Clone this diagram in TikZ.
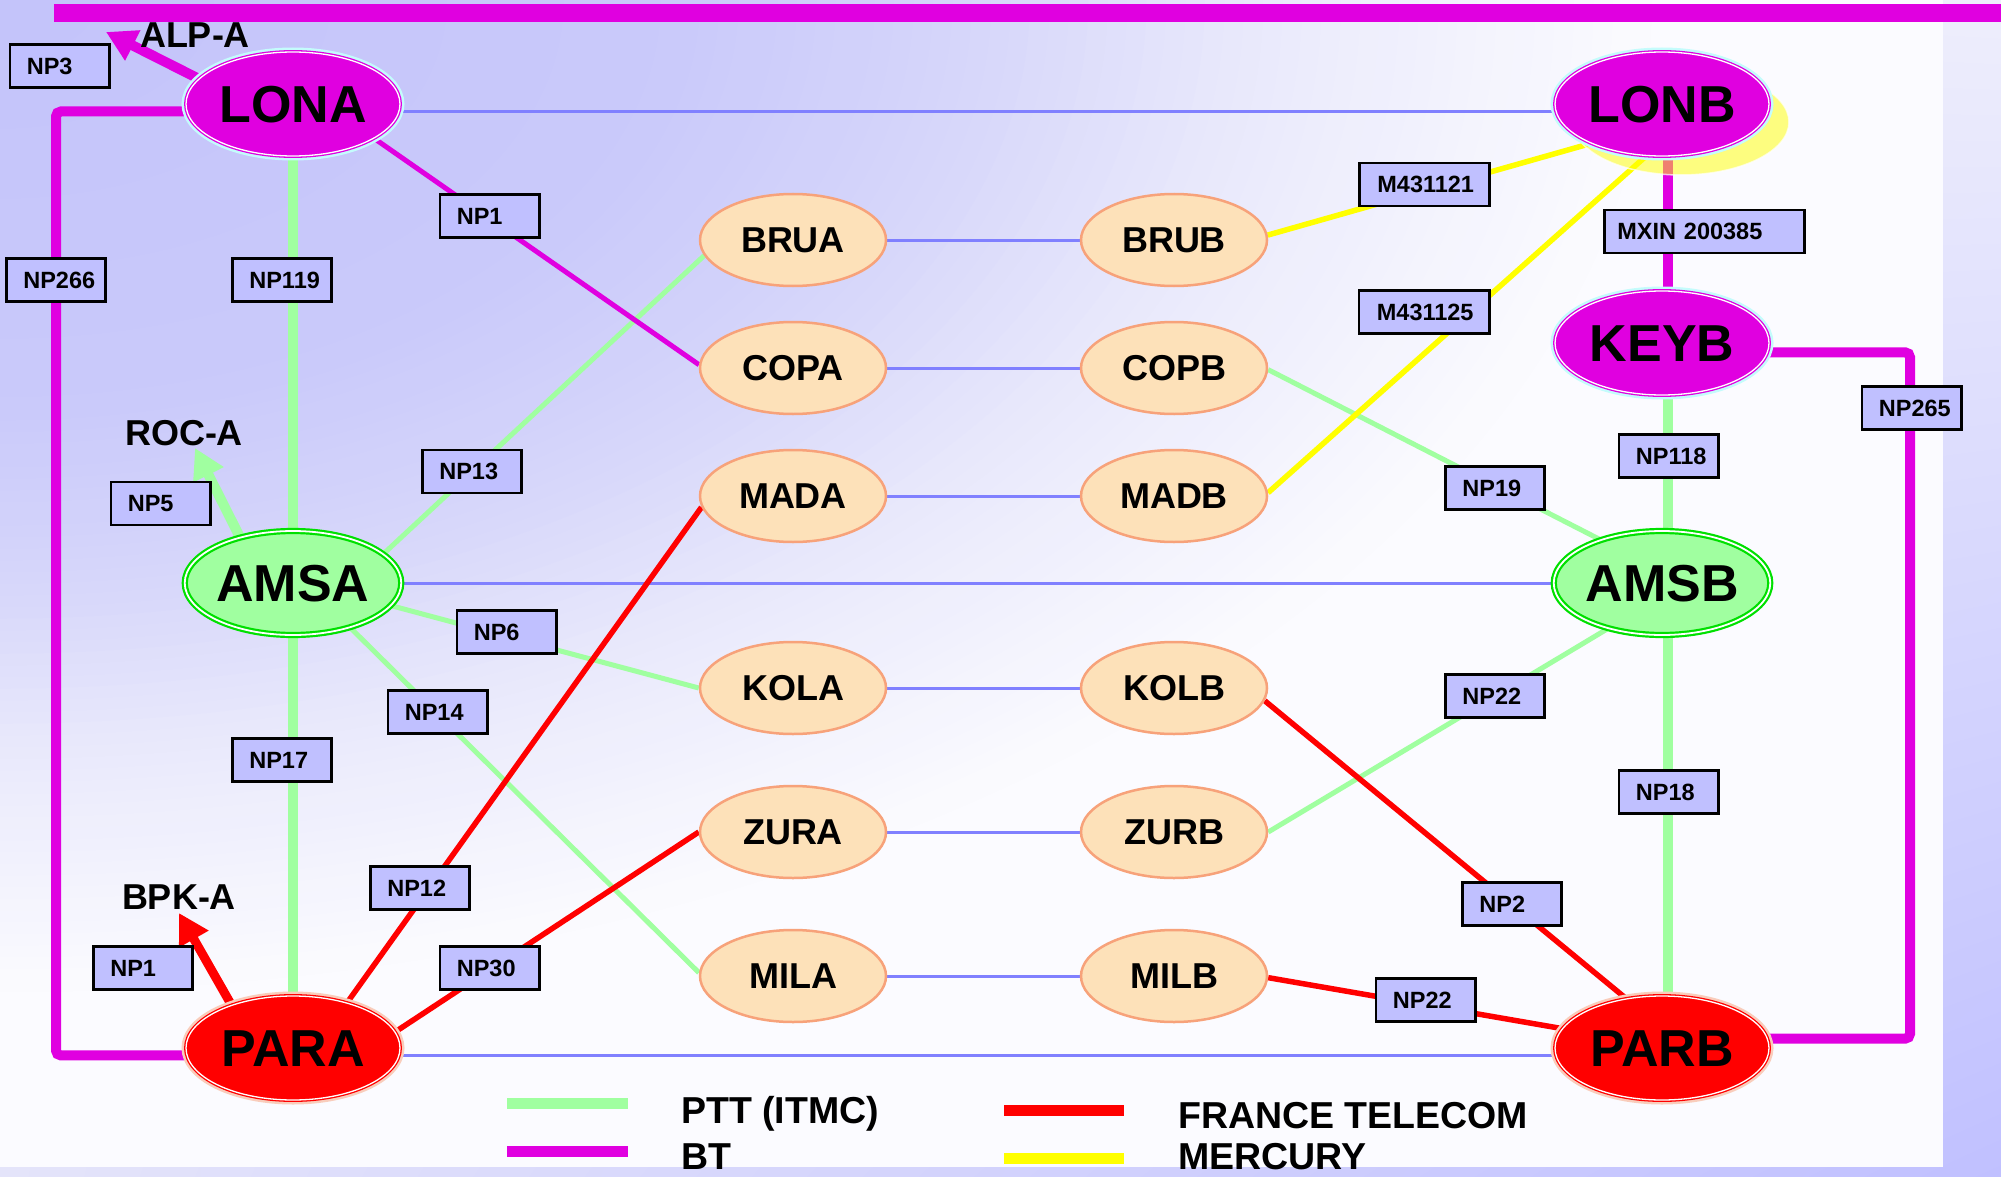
\documentclass[tikz,border=0pt]{standalone}
\usepackage{fontspec}
\setmainfont{Liberation Sans}
\usetikzlibrary{shapes.geometric,arrows.meta,shadings}

% operator colours
\definecolor{btmag}{HTML}{E000E0}
\definecolor{pttgreen}{HTML}{A0FFA0}
\definecolor{ftred}{HTML}{FF0000}
\definecolor{mcyellow}{HTML}{FFFF00}
\definecolor{linkblue}{HTML}{8080FF}
% node colours
\definecolor{lblfill}{HTML}{C0C0FF}
\definecolor{peach}{HTML}{FDE1B9}
\definecolor{peachedge}{HTML}{F7A27A}
\definecolor{amsedge}{HTML}{00E000}
\definecolor{glowcyan}{HTML}{C4FCFC}
\definecolor{glowpeach}{HTML}{F9CDBC}
% backdrop colours
\definecolor{paperwhite}{HTML}{FBFBFF}
\definecolor{bgUL}{HTML}{E8E8FA}
\definecolor{bgUR}{HTML}{EEEEFC}
\definecolor{bgLL}{HTML}{E4E4FA}
\definecolor{bgLR}{HTML}{C0C0FF}

\pgfdeclarelayer{backdrop}
\pgfdeclarelayer{wires}
\pgfdeclarelayer{haze}
\pgfsetlayers{backdrop,wires,haze,main}

\newcommand{\hubfont}{\fontsize{52pt}{52pt}\selectfont\bfseries}
\newcommand{\sitefont}{\fontsize{36pt}{36pt}\selectfont\bfseries}
\newcommand{\boxfont}{\fontsize{23.5pt}{23.5pt}\selectfont\bfseries}
\newcommand{\tagfont}{\fontsize{36pt}{36pt}\selectfont\bfseries}
\newcommand{\keyfont}{\fontsize{37.5pt}{37.5pt}\selectfont\bfseries}

\tikzset{
  hub/.style={ellipse, minimum width=214pt, minimum height=104pt, inner sep=0pt,
    font=\hubfont, text height=37.4pt, text depth=0pt},
  bthub/.style={hub, fill=btmag, preaction={draw=glowcyan, line width=9pt},
    draw=btmag, line width=1.3pt, double=white, double distance=1.3pt},
  amshub/.style={hub, fill=pttgreen, draw=amsedge, line width=2.2pt,
    double=white, double distance=1.8pt},
  parhub/.style={hub, fill=ftred, preaction={draw=glowpeach, line width=9pt},
    draw=ftred, line width=1.3pt, double=white, double distance=1.3pt},
  site/.style={ellipse, minimum width=186pt, minimum height=92pt, inner sep=0pt,
    fill=peach, draw=peachedge, line width=2.5pt, font=\sitefont,
    text height=25.8pt, text depth=0pt},
  lbl/.style={rectangle, draw=black, line width=2.7pt, fill=lblfill,
    inner xsep=17pt, inner ysep=0pt, minimum height=43pt, text width=#1,
    align=left, font=\boxfont, text height=16.9pt, text depth=0pt},
  lbl/.default=65.3pt,
  widelbl/.style={lbl=#1, inner xsep=18pt},
  tag/.style={font=\tagfont, inner sep=0pt, text height=25.8pt, text depth=0pt},
  key/.style={font=\keyfont, inner sep=0pt, anchor=west, text height=26.9pt, text depth=0pt},
  trunk/.style={draw=linkblue, line width=3pt},
  pttwide/.style={draw=pttgreen, line width=10pt},
  pttthin/.style={draw=pttgreen, line width=5pt},
  btwide/.style={draw=btmag, line width=10pt, rounded corners=5pt},
  btthin/.style={draw=btmag, line width=5pt},
  ftline/.style={draw=ftred, line width=5.5pt},
  ftwide/.style={draw=ftred, line width=9pt},
  mcline/.style={draw=mcyellow, line width=5.5pt},
  keybar/.style={line width=11pt},
  arrowtip/.style={-{Triangle[length=30pt,width=32pt]}},
}

\begin{document}
\begin{tikzpicture}[x=1pt,y=-1pt]
\useasboundingbox (0,0) rectangle (2001,1177);

% ---------- backdrop ----------
\begin{pgfonlayer}{backdrop}
  \shade[upper left=bgUL, upper right=bgUR, lower left=bgLL, lower right=bgLR]
    (0,0) rectangle (2001,1177);
  \begin{scope}
    \clip (0,0) rectangle (1943,1167);
    \fill[paperwhite] (0,0) rectangle (1943,1167);
    % lavender glow spreading from the top left corner, built from rings
    \foreach \k in {86,85,...,1}{
      \pgfmathsetmacro{\r}{\k/100}
      \pgfmathtruncatemacro{\v}{196 + 6/0.35*min(\r,0.35)
        + 12/0.15*max(0,min(\r,0.5)-0.35) + 20/0.15*max(0,min(\r,0.65)-0.5)
        + 17/0.2*max(0,min(\r,0.85)-0.65)}
      \pgfmathtruncatemacro{\b}{250 + 2/0.15*max(0,min(\r,0.65)-0.5)
        + 3/0.2*max(0,min(\r,0.85)-0.65)}
      \pgfmathsetmacro{\rx}{\r*1943}
      \pgfmathsetmacro{\ry}{\r*1167}
      \definecolor{ringcol}{RGB}{\v,\v,\b}
      \fill[ringcol] (0,0) ellipse [x radius=\rx pt, y radius=\ry pt];
    }
  \end{scope}
\end{pgfonlayer}

% ---------- exchanges ----------
\node[bthub] (lona) at (293,104) {LONA};
\node[bthub] (lonb) at (1662,104) {LONB};
\node[bthub] (keyb) at (1662,343) {KEYB};
\node[amshub] (amsa) at (293,583) {AMSA};
\node[amshub] (amsb) at (1662,583) {AMSB};
\node[parhub] (para) at (293,1048) {PARA};
\node[parhub] (parb) at (1662,1048) {PARB};

\node[site] (brua) at (793,240) {BRUA};
\node[site] (brub) at (1174,240) {BRUB};
\node[site] (copa) at (793,368) {COPA};
\node[site] (copb) at (1174,368) {COPB};
\node[site] (mada) at (793,496) {MADA};
\node[site] (madb) at (1174,496) {MADB};
\node[site] (kola) at (793,688) {KOLA};
\node[site] (kolb) at (1174,688) {KOLB};
\node[site] (zura) at (793,832) {ZURA};
\node[site] (zurb) at (1174,832) {ZURB};
\node[site] (mila) at (793,976) {MILA};
\node[site] (milb) at (1174,976) {MILB};

% ---------- outgoing destinations ----------
\node[tag] (alp) at (195,35) {ALP-A};
\node[tag] (roc) at (184,433) {ROC-A};
\node[tag] (bpk) at (179,897) {BPK-A};
\coordinate (alptip) at (106,32);
\coordinate (roctip) at (195,448);
\coordinate (bpktip) at (179,913);
\coordinate (btleft) at (56,600);
\coordinate (btright) at (1910,700);

% ---------- circuit labels ----------
\node[lbl] (np3) at (59.5,66) {NP3};
\node[lbl] (np266) at (56,280) {NP266};
\node[lbl] (np119) at (282,280) {NP119};
\node[lbl] (np1a) at (489.5,216) {NP1};
\node[lbl] (np13) at (472,471.5) {NP13};
\node[lbl] (np5) at (160.5,503.5) {NP5};
\node[lbl] (np6) at (506.5,632) {NP6};
\node[lbl] (np14) at (437.5,712) {NP14};
\node[lbl] (np17) at (282,760) {NP17};
\node[lbl] (np12) at (420,888) {NP12};
\node[lbl] (np30) at (489.5,968) {NP30};
\node[lbl] (np1b) at (143,968) {NP1};
\node[widelbl=94.3pt] (m121) at (1424.5,184.5) {M431121};
\node[widelbl=94.3pt] (m125) at (1424,312) {M431125};
\node[lbl=174.3pt, inner xsep=13pt] (mxin) at (1704.5,231.5) {MXIN 200385};
\node[lbl] (np265) at (1911.5,408) {NP265};
\node[lbl] (np118) at (1668.5,456) {NP118};
\node[lbl] (np19) at (1495,488) {NP19};
\node[lbl] (np22a) at (1495,696) {NP22};
\node[lbl] (np18) at (1668.5,792) {NP18};
\node[lbl] (np2) at (1512,904) {NP2};
\node[lbl] (np22b) at (1425.5,1000) {NP22};

% ---------- links ----------
\begin{pgfonlayer}{wires}
  \fill[btmag] (54,4) rectangle (2001,22);

  % direct trunks
  \draw[trunk] (lona.-4) -- (lonb.184);
  \draw[trunk] (amsa.east) -- (amsb.west);
  \draw[trunk] (para.-4) -- (parb.184);
  \foreach \a/\b in {brua/brub,copa/copb,mada/madb,kola/kolb,zura/zurb,mila/milb}
    \draw[trunk] (\a.east) -- (\b.west);

  % PTT (ITMC)
  \draw[pttwide] (lona.south) -- (amsa.north);
  \draw[pttwide] (amsa.south) -- (para.north);
  \draw[pttwide] ([xshift=6pt]keyb.south) -- ([xshift=6pt]amsb.north);
  \draw[pttwide] ([xshift=6pt]amsb.south) -- ([xshift=6pt]parb.north);
  \draw[pttthin] (amsa.18) -- (brua.190);
  \draw[pttthin] (amsa.-13) -- (kola.west);
  \draw[pttthin] (amsa.-38) -- (mila.178);
  \draw[pttthin] (copb.-1) -- (amsb.145);
  \draw[pttthin] (zurb.east) -- (amsb.220);
  \draw[pttwide, arrowtip] (amsa.139) -- (roctip);

  % BT
  \draw[btwide] (lona.184) -| (btleft) |- (para.184);
  \draw[btwide] (keyb.-5) -| (btright) |- (parb.5);
  \draw[btwide] ([xshift=6pt]lonb.south) -- ([xshift=6pt]keyb.north);
  \draw[btthin] (lona.-23) -- (copa.178);
  \draw[btwide, arrowtip] (lona.165) -- (alptip);

  % France Telecom
  \draw[ftline] (para.40) -- (mada.187);
  \draw[ftline] (para.9) -- (zura.west);
  \draw[ftline] (kolb.-8) -- (parb.126);
  \draw[ftline] (milb.-1) -- (parb.169);
  \draw[ftwide, arrowtip] (para.145) -- (bpktip);

  % Mercury
  \draw[mcline] (brub.3) -- (lonb.209);
  \draw[mcline] (madb.2) -- (lonb.253);
\end{pgfonlayer}

% Mercury halo behind LONB
\begin{pgfonlayer}{haze}
  \path[fill=mcyellow, fill opacity=0.5, draw=white, draw opacity=0.7, line width=1.5pt]
    (1681,122) ellipse [x radius=108pt, y radius=53pt];
\end{pgfonlayer}

% ---------- legend ----------
\coordinate (kg1) at (507,1103.5); \coordinate (kg2) at (628,1103.5);
\coordinate (kb1) at (507,1151.5); \coordinate (kb2) at (628,1151.5);
\coordinate (kr1) at (1004,1110.5); \coordinate (kr2) at (1124,1110.5);
\coordinate (ky1) at (1004,1158); \coordinate (ky2) at (1124,1158);
\draw[keybar, pttgreen] (kg1) -- (kg2);
\draw[keybar, btmag] (kb1) -- (kb2);
\draw[keybar, ftred] (kr1) -- (kr2);
\draw[keybar, mcyellow] (ky1) -- (ky2);
\node[key] (kptt) at (681,1110) {PTT (ITMC)};
\node[key] (kbt) at (681,1156) {BT};
\node[key] (kft) at (1178,1115.5) {FRANCE TELECOM};
\node[key] (kmc) at (1178,1156) {MERCURY};
\end{tikzpicture}
\end{document}
